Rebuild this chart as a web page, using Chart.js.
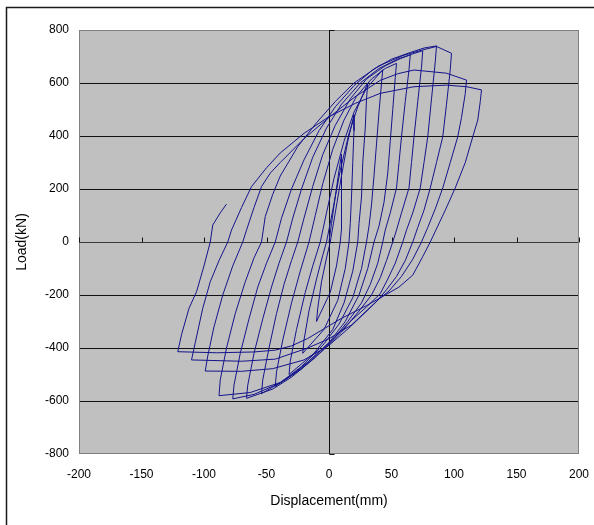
<!DOCTYPE html>
<html>
<head>
<meta charset="utf-8">
<script src="https://cdn.jsdelivr.net/npm/chart.js@4.4.1/dist/chart.umd.min.js"></script>
<style>
  html, body { margin: 0; padding: 0; background: #fff; }
</style>
</head>
<body>
<canvas id="mycanvas" width="594" height="525"></canvas>
<script>
// axis ticks
var xTickValues = [-200, -150, -100, -50, 0, 50, 100, 150, 200];
var yTickValues = [-800, -600, -400, -200, 0, 200, 400, 600, 800];

// load path, one array per half cycle: [displacement(mm), load(kN)]
var asc1 = [[0,0],[2,70],[5,170],[8,270],[10,330]];
var desc1 = [[10,330],[10,260],[10,150],[10,50],[9,0],[6,-90],[1,-190],[-10,-300]];
var asc2 = [[-10,-300],[-9,-250],[-6,-150],[-2,-60],[1,0],[5,110],[10,250],[15,380],[20,480]];
var desc2 = [[20,480],[20,420],[19,300],[18,170],[17,70],[16,0],[13,-100],[7,-220],[-4,-330],[-21,-420]];
var asc3 = [[-21,-420],[-20,-370],[-16,-260],[-10,-140],[-5,-50],[-2,0],[3,120],[9,270],[16,410],[23,510],[31,600]];
var desc3 = [[31,600],[30,540],[29,430],[27,300],[26,170],[24,70],[23,0],[19,-110],[12,-230],[3,-330],[-12,-420],[-32,-500]];
var asc4 = [[-32,-500],[-31,-450],[-26,-330],[-19,-190],[-13,-90],[-7,0],[-2,110],[4,240],[12,380],[20,490],[30,580],[43,650]];
var desc4 = [[43,650],[42,600],[40,490],[38,370],[36,250],[34,140],[32,60],[30,0],[26,-100],[19,-210],[8,-310],[-5,-390],[-22,-470],[-43,-545]];
var asc5 = [[-43,-545],[-42,-490],[-37,-370],[-30,-230],[-23,-110],[-16,0],[-11,100],[-5,220],[3,350],[12,460],[22,550],[34,615],[45,655],[54,674]];
var desc5 = [[54,674],[53,620],[51,500],[49,380],[47,260],[44,150],[40,60],[36,0],[31,-100],[24,-200],[13,-300],[0,-380],[-16,-450],[-35,-520],[-54,-572]];
var asc6 = [[-54,-572],[-53,-520],[-48,-400],[-42,-270],[-36,-160],[-30,-70],[-25,0],[-20,90],[-13,210],[-5,330],[5,440],[17,540],[30,615],[45,665],[57,692],[65,706]];
var desc6 = [[65,706],[64,650],[61,530],[58,397],[56,300],[54,204],[49,110],[45,45],[43,0],[39,-80],[33,-160],[26,-230],[15,-300],[3,-370],[-12,-440],[-30,-510],[-45,-555],[-66,-590]];
var asc7 = [[-66,-590],[-65,-540],[-60,-420],[-53,-290],[-46,-170],[-40,-80],[-34,0],[-29,90],[-22,200],[-13,320],[-2,430],[10,520],[25,600],[40,655],[55,690],[67,710],[75,722]];
var desc7 = [[75,722],[74,660],[71,530],[68,397],[66,300],[64,204],[58,110],[54,45],[51,0],[46,-70],[41,-135],[34,-200],[25,-255],[10,-340],[-5,-410],[-23,-483],[-39,-532],[-60,-575],[-77,-592]];
var asc8 = [[-77,-592],[-76,-540],[-71,-420],[-64,-290],[-57,-170],[-50,-80],[-43,0],[-38,90],[-30,200],[-20,310],[-8,420],[5,510],[20,590],[35,650],[50,690],[65,715],[76,732],[86,740]];
var desc8 = [[86,740],[85,680],[82,540],[79,397],[76,300],[73,204],[67,110],[62,45],[59,0],[53,-80],[47,-140],[41,-195],[30,-245],[17,-300],[0,-380],[-23,-480],[-39,-530],[-63,-568],[-88,-580]];
var asc9 = [[-88,-580],[-87,-520],[-82,-400],[-75,-270],[-67,-150],[-60,-60],[-54,0],[-51,96],[-45,180],[-39,249],[-25,360],[-10,450],[5,530],[20,600],[40,665],[60,705],[75,725],[86,738],[98,712]];
var desc9 = [[98,712],[97,650],[94,520],[91,397],[86,300],[81,204],[76,120],[71,55],[67,0],[61,-70],[54,-130],[46,-180],[38,-225],[17,-320],[0,-390],[-20,-445],[-45,-478],[-70,-488],[-99,-487]];
var asc10 = [[-99,-487],[-97,-430],[-92,-320],[-85,-200],[-77,-90],[-69,0],[-66,45],[-60,130],[-54,209],[-47,260],[-39,300],[-20,390],[0,470],[20,545],[41,610],[55,635],[68,649],[94,637],[110,611]];
var desc10 = [[110,611],[109,560],[106,470],[103,397],[97,300],[91,204],[85,125],[79,55],[74,0],[67,-65],[58,-130],[48,-185],[40,-215],[18,-313],[0,-365],[-17,-400],[-43,-442],[-70,-450],[-110,-445]];
var asc11 = [[-110,-445],[-107,-380],[-101,-250],[-95,-150],[-88,-70],[-81,0],[-78,45],[-70,130],[-62,209],[-50,280],[-39,336],[-20,410],[0,473],[21,523],[41,561],[68,586],[94,592],[110,586],[122,574]];
var desc11 = [[122,574],[121,530],[119,460],[115,397],[109,300],[101,204],[93,120],[87,60],[81,0],[75,-55],[67,-125],[56,-170],[45,-200],[30,-240],[10,-288],[-17,-364],[-30,-392],[-43,-408],[-60,-415],[-90,-418],[-121,-414]];
var asc12 = [[-121,-414],[-118,-350],[-112,-250],[-106,-188],[-100,-90],[-95,0],[-93,64],[-87,110],[-82,143]];

var halfCycles = [asc1, desc1, asc2, desc2, asc3, desc3, asc4, desc4, asc5, desc5, asc6, desc6,
                  asc7, desc7, asc8, desc8, asc9, desc9, asc10, desc10, asc11, desc11, asc12];

var path = [];
for (var i in halfCycles) {
    for (var j in halfCycles[i]) {
        path.push({x: halfCycles[i][j][0], y: halfCycles[i][j][1]});
    }
}

var plotDecor = {
    id: 'plotDecor',
    beforeDraw: function(chart) {
        var ctx = chart.ctx, a = chart.chartArea;
        ctx.save();
        ctx.fillStyle = '#fff';
        ctx.fillRect(0, 0, chart.width, chart.height);
        // outer frame (open at right and bottom)
        ctx.strokeStyle = '#1a1a1a';
        ctx.lineWidth = 1.5;
        ctx.beginPath();
        ctx.moveTo(6.5, chart.height);
        ctx.lineTo(6.5, 7.5);
        ctx.lineTo(chart.width, 7.5);
        ctx.stroke();
        ctx.fillStyle = '#c0c0c0';
        ctx.fillRect(a.left, a.top, a.right - a.left, a.bottom - a.top);
        ctx.restore();
    },
    beforeDatasetsDraw: function(chart) {
        var ctx = chart.ctx, a = chart.chartArea;
        var xs = chart.scales.x, ys = chart.scales.y;
        var x0 = Math.round(xs.getPixelForValue(0)) + 0.5;
        var y0 = Math.round(ys.getPixelForValue(0)) + 0.5;
        ctx.save();
        ctx.lineWidth = 1;
        ctx.strokeStyle = '#808080';
        ctx.strokeRect(a.left + 0.5, a.top + 0.5, a.right - a.left - 1, a.bottom - a.top - 1);
        ctx.strokeStyle = '#111';
        ctx.beginPath();
        ctx.moveTo(x0, a.top);
        ctx.lineTo(x0, a.bottom);
        for (var k in xTickValues) {
            var px = Math.round(xs.getPixelForValue(xTickValues[k])) + 0.5;
            ctx.moveTo(px, y0);
            ctx.lineTo(px, y0 - 5);
        }
        for (var m in yTickValues) {
            var py = Math.round(ys.getPixelForValue(yTickValues[m])) + 0.5;
            ctx.moveTo(x0, py);
            ctx.lineTo(x0 + 5, py);
        }
        ctx.stroke();
        ctx.restore();
    }
};

var ctx = document.getElementById('mycanvas');

var hysteresis = new Chart(ctx, {
    type: 'scatter',
    data: {
        datasets: [{
            label: 'Load-Displacement',
            data: path,
            showLine: true,
            borderColor: 'rgb(20, 20, 140)',
            borderWidth: 1,
            pointRadius: 0,
            tension: 0,
            fill: false
        }]
    },
    options: {
        responsive: false,
        animation: false,
        devicePixelRatio: 1,
        layout: { padding: { left: 0, top: 30, right: 15, bottom: 0 } },
        plugins: {
            legend: { display: false },
            tooltip: { enabled: false }
        },
        scales: {
            x: {
                type: 'linear',
                min: -200,
                max: 200,
                afterFit: function(scale) {
                    scale.height = 71;
                    scale.paddingLeft = 0;
                    scale.paddingRight = 0;
                },
                afterBuildTicks: function(scale) {
                    scale.ticks = xTickValues.map(function(v) { return {value: v}; });
                },
                border: { display: false },
                grid: { display: false, drawTicks: false },
                ticks: {
                    padding: 13,
                    color: '#000',
                    font: { family: 'Liberation Sans, Arial, sans-serif', size: 12 },
                    maxRotation: 0
                },
                title: {
                    display: true,
                    text: 'Displacement(mm)',
                    color: '#000',
                    font: { family: 'Liberation Sans, Arial, sans-serif', size: 14 },
                    padding: { top: 0, bottom: 15 }
                }
            },
            y: {
                type: 'linear',
                min: -800,
                max: 800,
                afterFit: function(scale) {
                    scale.width = 79;
                    scale.paddingTop = 0;
                    scale.paddingBottom = 0;
                },
                afterBuildTicks: function(scale) {
                    scale.ticks = yTickValues.map(function(v) { return {value: v}; });
                },
                border: { display: false },
                grid: {
                    drawTicks: false,
                    lineWidth: 1,
                    color: function(c) {
                        var v = c.tick ? c.tick.value : null;
                        if (v === 800 || v === -800) return 'rgba(0,0,0,0)';
                        if (v === 0) return '#3a3a3a';
                        return '#111';
                    }
                },
                ticks: {
                    padding: 10,
                    color: '#000',
                    font: { family: 'Liberation Sans, Arial, sans-serif', size: 12 }
                },
                title: {
                    display: true,
                    text: 'Load(kN)',
                    color: '#000',
                    font: { family: 'Liberation Sans, Arial, sans-serif', size: 14 },
                    padding: { top: 14, bottom: 0 }
                }
            }
        }
    },
    plugins: [plotDecor]
});
</script>
</body>
</html>
